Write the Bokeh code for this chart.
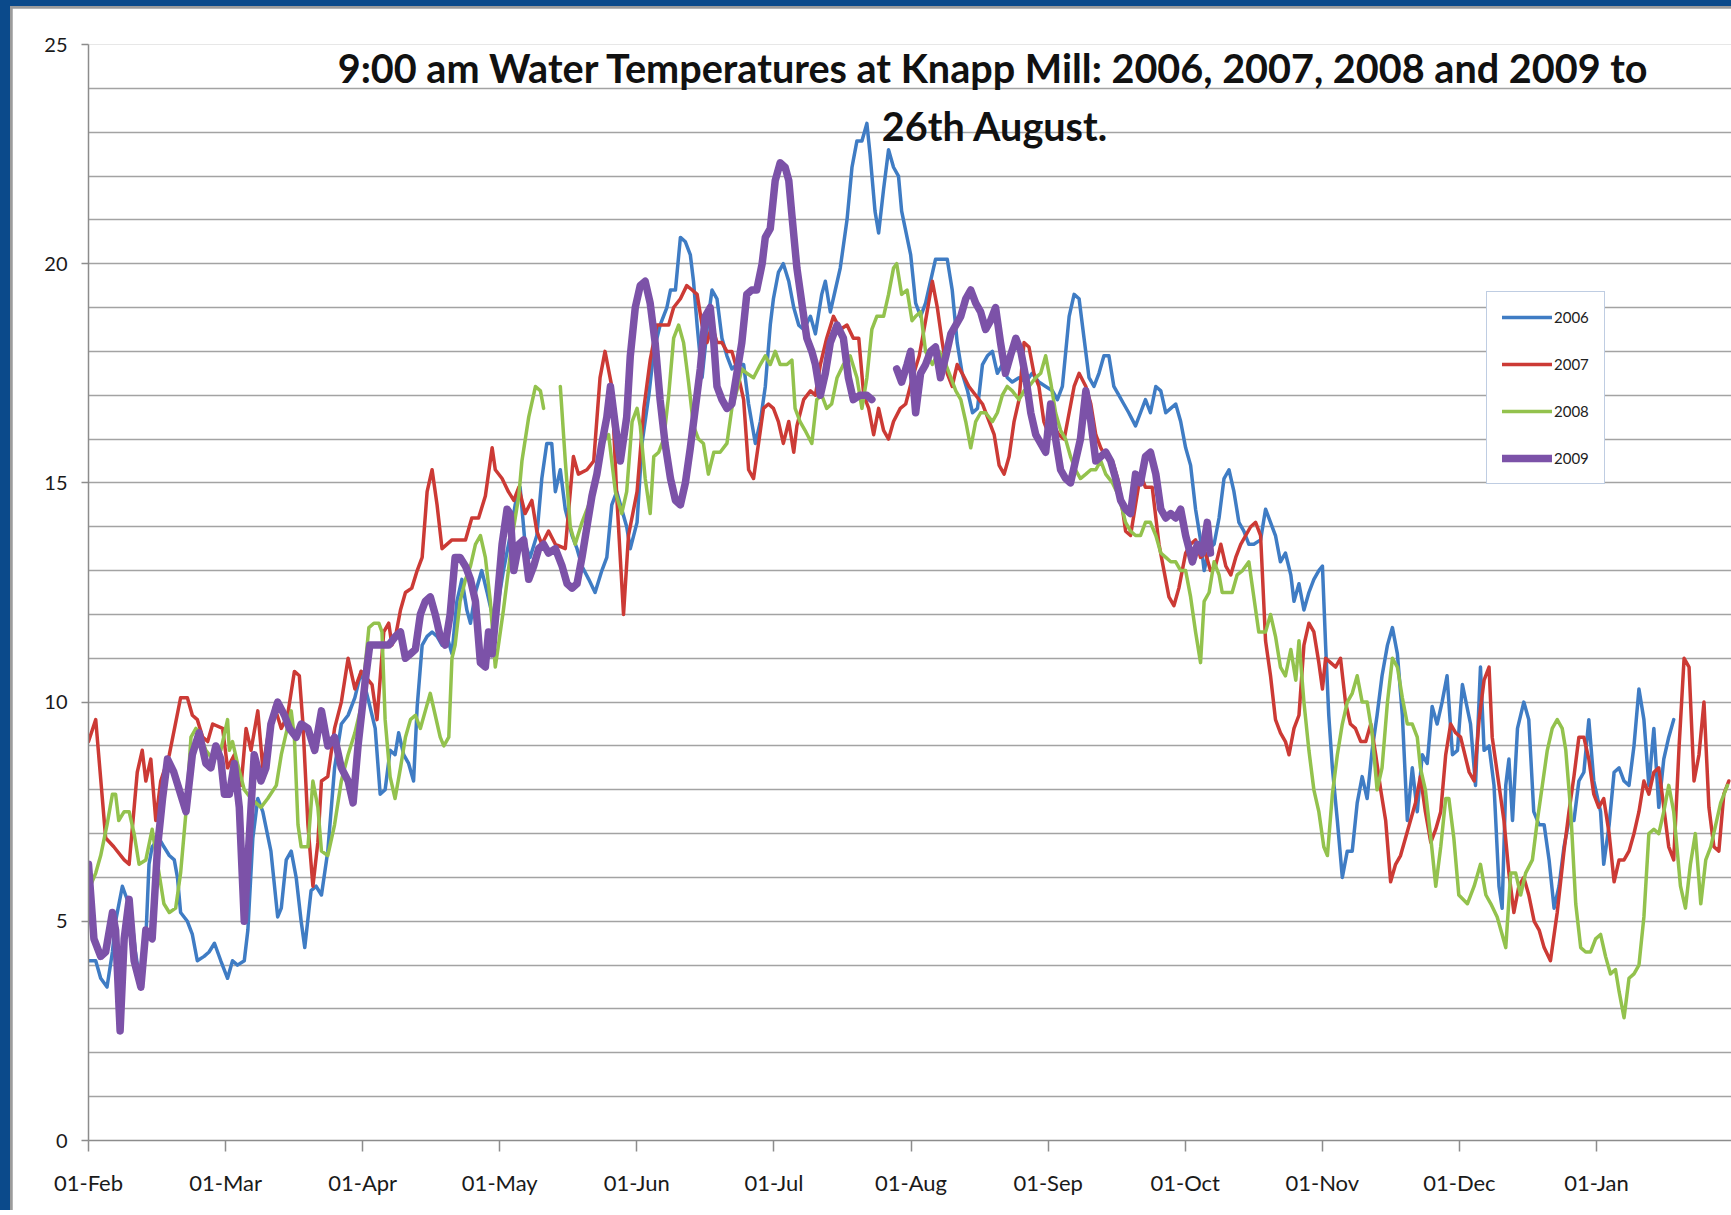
from bokeh.plotting import figure
from bokeh.models import Range1d, FixedTicker, SingleIntervalTicker, Label
from bokeh.layouts import column
from bokeh.embed import file_html
from bokeh.resources import INLINE

nan = float("nan")

# x = position along the category axis, in days after 01-Feb
month_ticks = [0, 30.36, 60.73, 91.09, 121.45, 151.82, 182.18, 212.55, 242.91, 273.27, 303.64, 334.0]
month_labels = ["01-Feb", "01-Mar", "01-Apr", "01-May", "01-Jun", "01-Jul",
                "01-Aug", "01-Sep", "01-Oct", "01-Nov", "01-Dec", "01-Jan"]

day_2006 = [0,1.6,2.7,4.1,5.3,6.0,7.5,8.2,9.3,10.4,11.6,12.7,13.4,14.1,15.6,16.7,17.9,19.0,19.7,20.4,21.9,23.0,24.1,25.6,26.7,27.9,29.3,30.8,31.9,33.0,34.5,35.3,36.4,37.5,38.6,40.4,41.9,42.7,43.8,44.9,46.0,47.1,47.9,49.3,50.4,51.6,53.0,54.5,56.0,57.5,59.0,60.4,
            62.1,63.5,64.6,65.7,66.8,67.9,68.7,69.8,70.9,72.0,72.8,73.9,75.0,76.1,77.2,78.3,79.4,80.5,81.6,82.7,83.8,84.6,85.7,87.1,88.3,89.4,90.8,91.9,93.4,94.5,95.6,96.7,97.8,99.3,100.4,101.5,102.6,103.4,104.5,105.6,107.1,108.2,109.3,110.8,112.2,113.7,114.8,115.9,117.0,118.1,119.2,
            120.0,121.5,122.6,124.1,125.2,126.6,128.1,128.9,130.0,131.1,132.2,133.3,134.0,134.8,135.9,137.3,138.1,139.2,140.3,141.4,142.5,143.6,145.1,146.2,147.7,148.8,149.9,151.0,151.7,152.8,153.9,155.1,156.2,157.3,158.4,159.9,161.0,162.4,163.2,164.3,165.4,166.5,168.0,169.1,170.2,171.3,172.4,173.1,174.2,175.0,176.1,177.2,178.3,179.4,180.1,
            182.1,183.2,184.3,185.4,186.5,187.6,189.1,190.2,191.3,192.4,193.5,194.7,195.8,196.9,198.0,199.1,200.2,201.3,202.4,203.5,204.6,206.1,207.6,209.0,210.5,212.0,213.5,214.6,215.7,217.2,218.3,219.4,220.5,221.6,222.7,223.8,224.9,226.0,227.1,228.2,229.3,230.4,231.9,233.0,234.1,235.2,236.4,237.5,238.6,239.7,240.8,241.9,243.0,
            244.1,245.2,246.3,247.1,248.2,249.3,250.4,251.5,252.6,253.7,254.8,255.9,257.0,258.1,259.6,260.7,261.8,262.9,264.0,265.1,266.3,267.0,268.1,269.2,270.3,271.4,272.5,273.3,274.0,274.7,275.5,276.6,277.7,278.8,279.9,281.0,282.1,283.2,284.3,285.4,286.5,287.7,288.8,289.9,291.0,292.1,293.2,294.3,295.4,296.5,297.6,298.7,299.8,300.9,302.1,303.2,304.3,
            306.1,307.2,308.3,309.1,310.2,311.3,312.4,313.1,313.9,314.6,315.4,316.5,317.9,319.0,320.1,321.3,322.4,323.5,324.6,325.7,326.8,327.9,329.0,330.1,331.2,332.3,333.4,334.9,335.6,336.8,337.9,339.0,340.1,341.2,342.3,343.4,344.5,345.6,346.7,347.8,348.9,350.0,351.1]
temp_2006 = [4.1,4.1,3.7,3.5,4.3,5.0,5.8,5.6,5.3,4.3,3.5,4.6,6.3,6.7,6.9,6.7,6.5,6.4,6.0,5.2,5.0,4.7,4.1,4.2,4.3,4.5,4.1,3.7,4.1,4.0,4.1,4.8,6.9,7.8,7.5,6.6,5.1,5.3,6.4,6.6,6.0,5.0,4.4,5.7,5.8,5.6,6.6,8.5,9.5,9.7,10.1,10.7,
             10.0,9.4,7.9,8.0,8.9,8.8,9.3,8.8,8.6,8.2,9.9,11.3,11.5,11.6,11.5,11.3,11.5,11.1,12.3,12.8,12.1,11.8,12.5,13.0,12.5,12.0,12.3,13.0,13.8,14.5,14.9,13.6,13.3,13.8,15.1,15.9,15.9,14.8,15.3,14.4,13.8,13.5,13.1,12.8,12.5,13.0,13.3,14.5,14.8,14.4,14.0,
             13.5,14.1,15.9,17.0,18.0,18.6,19.0,19.4,19.4,20.6,20.5,20.2,19.6,18.6,17.4,18.8,19.4,19.2,18.3,17.9,17.6,17.7,17.7,16.8,15.9,16.4,17.2,18.6,19.2,19.8,20.0,19.6,19.0,18.6,18.5,18.8,18.4,19.3,19.6,18.9,19.4,19.9,21.0,22.2,22.8,22.8,23.2,22.5,21.2,20.7,21.7,22.6,22.2,22.0,21.2,
             20.2,19.1,18.8,19.1,19.6,20.1,20.1,20.1,19.4,18.2,17.5,17.1,16.6,16.7,17.7,17.9,18.0,17.5,17.7,17.4,17.3,17.4,17.3,17.5,17.3,17.2,17.1,16.9,17.2,18.8,19.3,19.2,18.3,17.4,17.2,17.5,17.9,17.9,17.2,17.0,16.8,16.6,16.3,16.6,16.9,16.6,17.2,17.1,16.6,16.7,16.8,16.4,15.8,
             15.4,14.4,13.7,13.0,13.5,13.6,14.2,15.1,15.3,14.8,14.1,13.9,13.6,13.6,13.7,14.4,14.1,13.8,13.2,13.4,12.9,12.3,12.7,12.1,12.5,12.8,13.0,13.1,11.3,9.7,8.5,7.3,6.0,6.6,6.6,7.7,8.3,7.8,8.9,9.7,10.6,11.3,11.7,11.1,9.7,7.3,8.5,7.5,8.8,8.6,9.9,9.5,10.0,10.6,8.8,8.9,10.4,
             9.5,8.1,10.8,8.9,9.0,8.1,5.8,5.3,8.1,8.7,7.3,9.4,10.0,9.6,7.5,7.2,7.2,6.4,5.3,5.8,6.7,7.3,7.3,8.2,8.4,9.6,8.2,7.5,6.3,7.2,8.4,8.5,8.2,8.1,9.0,10.3,9.6,8.1,9.4,7.6,8.7,9.2,9.6]

day_2007 = [0,1.6,3.8,5.6,7.9,9.0,10.8,11.9,12.7,13.8,14.9,16.0,17.9,20.4,21.9,23.0,24.1,25.3,26.4,27.5,29.7,30.8,32.3,33.8,34.9,36.0,37.5,38.6,39.7,41.2,42.7,44.1,45.6,46.7,47.5,48.6,49.7,50.8,51.6,53.0,54.5,56.0,57.5,59.0,60.4,
            62.8,63.9,65.4,66.5,67.2,68.0,69.1,70.2,71.6,72.8,73.9,75.0,76.1,77.2,78.3,80.5,83.5,84.9,86.4,87.9,89.4,90.1,91.6,93.0,94.2,95.3,96.7,98.2,99.3,100.4,101.9,103.4,105.6,107.4,108.5,110.4,111.9,113.3,114.4,115.9,117.0,118.5,119.6,
            121.5,123.0,124.4,125.9,127.4,128.5,129.6,131.1,132.5,133.7,134.8,135.9,137.0,138.1,139.2,140.3,141.4,142.5,143.6,145.1,146.2,147.3,148.4,149.5,150.6,151.7,152.8,153.9,155.1,156.2,156.9,158.4,159.9,161.0,162.1,163.5,165.0,166.5,168.0,169.4,170.6,171.7,172.8,173.9,175.0,176.1,177.2,178.3,179.8,
            181.0,182.5,184.0,185.4,186.9,188.0,189.1,190.2,191.3,192.4,193.5,195.0,196.5,198.0,199.5,200.6,201.7,202.8,203.9,205.0,206.1,207.2,208.3,209.4,210.5,211.6,212.7,213.8,214.9,216.1,217.2,218.3,219.4,220.9,222.0,223.1,224.2,225.3,226.8,228.2,229.7,230.8,231.9,233.0,234.1,235.6,237.1,238.2,239.3,240.4,241.5,
            243.0,244.1,245.2,246.3,247.4,248.5,249.6,250.8,251.9,253.0,254.1,255.2,256.3,257.4,258.5,259.6,260.7,261.8,262.9,264.0,265.1,265.9,267.0,268.1,269.2,270.3,271.4,272.5,273.3,274.0,275.1,276.2,277.3,278.4,279.5,280.6,281.8,282.9,284.0,285.1,286.2,287.3,288.4,289.5,290.6,291.7,292.8,293.9,295.0,296.1,297.3,298.4,299.5,300.6,301.7,302.8,303.9,
            305.8,306.9,308.0,309.1,310.2,310.9,312.0,313.5,314.6,315.7,316.8,317.9,319.0,320.2,321.3,322.4,323.8,325.3,326.8,327.9,329.0,330.1,331.2,332.3,333.4,334.5,335.6,336.8,337.9,339.0,340.1,341.2,342.3,343.4,344.5,345.6,346.7,347.8,348.9,350.0,351.1,352.3,353.4,354.5,355.6,356.7,357.8,358.9,360.0,361.1,362.2,363.3]
temp_2007 = [9.1,9.6,6.9,6.7,6.4,6.3,8.4,8.9,8.2,8.7,7.3,8.2,8.8,10.1,10.1,9.7,9.6,9.2,9.1,9.5,9.4,8.5,8.8,8.1,9.4,8.9,9.8,8.5,9.2,9.9,9.4,9.7,10.7,10.6,9.5,7.2,5.8,6.8,8.2,8.3,9.4,10.0,11.0,10.3,10.7,
             10.4,9.6,11.6,11.8,11.3,11.5,12.1,12.5,12.6,13.0,13.3,14.8,15.3,14.5,13.5,13.7,13.7,14.2,14.2,14.7,15.8,15.3,15.1,14.8,14.6,14.9,14.3,14.6,13.9,13.6,13.9,13.6,13.5,15.6,15.2,15.3,15.5,17.4,18.0,17.2,14.7,12.0,13.8,
             14.8,16.7,17.8,18.6,18.6,18.6,19.0,19.2,19.5,19.4,19.3,18.6,18.2,18.6,18.2,18.2,18.0,18.0,17.6,16.9,15.3,15.1,15.9,16.7,16.8,16.7,16.4,15.9,16.4,15.7,16.3,16.9,17.1,17.0,17.7,18.3,18.8,18.5,18.6,18.3,18.3,17.0,16.7,16.1,16.7,16.2,16.0,16.4,16.7,
             16.8,17.4,17.9,18.7,19.6,19.0,18.2,17.5,17.2,17.7,17.5,17.2,17.0,16.8,16.4,16.1,15.4,15.2,15.6,16.4,16.9,18.2,18.1,17.5,17.2,16.4,16.1,16.3,16.1,16.0,16.6,17.2,17.5,17.2,16.8,16.1,15.8,15.6,15.5,15.0,13.9,13.8,14.5,15.2,14.9,14.9,13.6,13.0,12.4,12.2,12.6,
             13.4,13.6,13.7,13.3,13.4,13.0,13.1,13.6,13.1,12.9,13.3,13.6,13.8,14.0,14.1,13.8,11.4,10.6,9.6,9.3,9.1,8.8,9.4,9.7,11.3,11.8,11.6,10.9,10.3,11.0,10.9,10.8,11.0,10.0,9.5,9.4,9.1,9.1,9.5,8.8,8.0,7.3,5.9,6.3,6.5,6.9,7.3,7.7,8.3,7.5,6.8,7.1,7.5,8.8,9.5,9.3,9.2,
             8.4,8.2,9.6,10.5,10.8,9.2,8.4,7.3,6.1,5.2,5.8,6.0,5.6,5.0,4.8,4.4,4.1,5.2,6.6,7.5,8.3,9.2,9.2,8.7,7.9,7.6,7.8,7.0,5.9,6.4,6.4,6.6,7.0,7.5,8.2,7.9,8.4,8.5,7.6,6.7,6.4,9.0,11.0,10.8,8.2,8.8,10.0,7.6,6.7,6.6,7.9,8.2]

day_2008 = [0,1.6,2.7,4.1,5.3,6.0,6.7,7.9,9.0,10.1,11.2,12.7,14.1,15.3,16.7,17.9,19.3,20.4,21.6,22.7,23.8,24.9,26.0,27.5,29.3,30.8,31.2,31.9,33.0,34.5,36.0,38.2,39.7,41.6,42.7,44.9,45.6,46.4,47.1,48.6,49.7,50.8,51.6,53.0,54.5,56.0,57.5,59.0,60.4,
            62.1,63.2,64.3,65.0,65.7,66.8,67.9,69.1,70.2,71.3,72.4,73.5,74.6,75.7,76.8,77.9,78.7,79.8,80.5,81.2,82.3,83.5,84.6,85.7,86.8,87.9,89.0,90.1,90.8,91.9,93.0,94.2,95.3,96.0,97.5,99.0,100.1,100.8,102.6,104.5,105.6,106.7,107.8,109.3,110.8,112.2,113.7,115.2,116.7,118.1,119.2,120.4,121.5,
            122.2,123.3,124.4,125.2,126.3,127.4,128.5,129.6,130.7,131.8,132.9,134.0,135.1,136.2,137.3,138.5,139.9,141.4,142.5,143.6,144.7,145.8,147.3,148.8,149.9,151.0,152.1,153.2,154.7,155.8,156.5,157.6,158.7,160.2,161.3,162.4,163.5,164.6,165.8,167.2,168.7,170.2,171.3,172.4,173.5,174.6,176.1,177.2,178.3,179.0,180.1,181.3,182.4,
            183.2,184.3,185.4,186.9,188.4,189.9,191.0,192.1,193.2,194.3,195.4,196.5,197.6,198.7,200.2,201.3,202.4,203.5,204.6,206.1,207.2,208.3,209.8,210.9,212.0,213.1,214.2,215.3,216.4,217.5,218.6,219.7,220.9,222.0,223.1,224.2,225.3,226.8,228.2,229.7,230.8,231.9,233.0,234.1,235.2,236.4,237.5,238.6,239.7,240.8,241.9,
            243.0,244.1,245.2,246.3,247.1,248.2,249.3,250.4,251.1,252.2,253.3,254.4,255.6,257.0,258.1,259.2,260.7,261.8,262.9,264.0,265.1,266.3,267.4,268.1,269.2,270.3,271.4,272.5,273.6,274.4,275.5,276.6,277.7,278.8,279.9,281.0,282.1,283.2,284.3,285.4,286.5,287.7,288.8,289.9,291.0,292.1,293.2,294.3,295.0,296.1,297.3,298.4,299.5,300.6,301.3,302.4,303.5,
            305.4,306.9,308.3,309.5,310.6,312.0,313.1,313.9,315.0,316.1,317.2,318.3,319.8,320.9,322.0,323.1,324.2,325.3,326.4,327.2,328.3,329.4,330.5,331.6,332.7,333.8,334.9,336.0,337.1,338.2,339.0,340.1,341.2,342.3,343.4,344.5,345.6,346.7,347.8,348.9,350.0,351.1,352.6,353.7,354.8,355.9,357.1,358.2,359.3,360.4,361.5,363.0]
temp_2008 = [5.7,6.1,6.5,7.2,7.9,7.9,7.3,7.5,7.5,7.0,6.3,6.4,7.1,6.3,5.4,5.2,5.3,6.1,7.5,9.2,9.4,9.2,8.9,8.7,8.9,9.6,8.9,9.1,8.6,8.0,7.8,7.6,7.8,8.1,8.8,9.8,9.2,7.2,6.7,6.7,8.2,7.6,6.6,6.5,7.2,8.2,8.8,9.3,9.9,
             11.7,11.8,11.8,11.6,9.6,8.3,7.8,8.5,9.2,9.6,9.7,9.4,9.8,10.2,9.7,9.2,9.0,9.2,11.0,11.3,12.3,12.8,13.1,13.6,13.8,13.3,12.3,10.8,11.3,12.1,13.0,14.0,14.7,15.5,16.5,17.2,17.1,16.7,nan,17.2,15.5,14.0,13.6,14.1,14.5,15.1,15.9,16.1,14.8,14.3,14.8,16.4,16.7,
             16.3,15.1,14.3,15.6,15.7,16.0,17.0,18.3,18.6,18.2,17.3,16.3,16.0,15.9,15.2,15.7,15.7,15.9,16.7,17.1,17.6,17.5,17.4,17.7,17.9,17.7,18.0,17.7,17.7,17.8,16.7,16.4,16.2,15.9,16.9,17.0,16.7,16.8,17.4,17.7,17.9,17.4,16.7,17.4,18.5,18.8,18.8,19.3,19.9,20.0,19.3,19.4,18.7,
             18.8,18.9,18.0,17.7,18.0,17.7,17.4,17.1,16.9,16.4,15.8,16.4,16.6,16.6,16.4,16.6,17.0,17.2,17.1,16.9,17.1,17.2,17.4,17.5,17.9,17.3,16.6,16.2,16.0,15.6,15.3,15.1,15.2,15.3,15.3,15.5,15.2,15.0,14.7,14.1,13.9,13.8,13.8,14.1,14.1,13.8,13.4,13.3,13.2,13.2,13.0,
             13.0,12.4,11.6,10.9,12.3,12.5,13.2,12.9,12.5,12.5,12.5,12.9,13.0,13.2,12.4,11.6,11.6,12.0,11.5,10.8,10.6,11.2,10.5,11.4,10.0,8.9,8.0,7.5,6.7,6.5,7.9,8.8,9.5,10.0,10.2,10.6,10.0,10.0,9.3,8.0,8.5,10.0,11.0,10.8,10.1,9.5,9.5,9.2,8.5,8.0,6.9,5.8,6.7,7.8,7.8,6.9,5.6,
             5.4,5.8,6.3,5.6,5.4,5.1,4.7,4.4,6.1,6.1,5.6,6.1,6.4,7.3,8.1,8.9,9.4,9.6,9.4,8.9,7.5,5.4,4.4,4.3,4.3,4.6,4.7,4.2,3.8,3.9,3.4,2.8,3.7,3.8,4.0,5.1,7.0,7.1,7.0,7.5,8.1,7.5,5.8,5.3,6.3,7.0,5.4,6.4,6.7,7.2,7.7,8.1]

day_2009 = [0,1.2,2.7,3.8,5.3,6.0,7.0,7.9,9.0,10.1,11.6,12.7,14.1,15.3,16.4,17.5,18.9,20.4,21.6,23.0,24.5,26.0,27.1,28.2,29.3,30.1,31.2,32.3,33.4,34.5,35.6,36.7,38.2,39.3,40.4,41.9,43.4,44.5,46.0,47.1,48.6,50.1,51.6,53.0,54.5,56.0,57.5,58.6,59.7,61.2,62.3,
            63.5,65.0,66.5,68.0,69.1,70.2,71.3,72.4,73.5,74.6,75.7,76.8,77.9,79.0,80.1,81.2,82.3,83.5,84.6,85.7,86.8,87.9,88.6,89.4,90.5,91.6,92.7,93.4,94.2,95.3,96.4,97.5,98.6,99.7,100.8,101.9,103.4,104.9,106.0,107.1,108.2,109.3,110.4,111.5,112.6,113.7,114.8,115.6,116.7,117.8,119.2,
            120.0,121.1,122.2,123.3,124.4,125.5,126.6,127.7,128.9,130.0,131.1,132.2,133.3,134.4,135.5,136.6,137.7,138.5,139.2,140.3,141.4,142.5,143.6,144.7,145.8,146.9,148.0,149.2,149.9,151.0,152.1,153.2,154.3,155.1,155.8,156.9,158.0,159.1,160.2,161.0,162.1,163.2,164.3,165.8,167.2,168.3,169.4,170.9,172.4,173.5,176.0,179.0,180.1,181.3,
            182.1,183.2,184.3,185.4,186.5,187.6,188.7,189.9,191.0,192.1,193.2,194.3,195.4,196.5,197.6,198.7,199.8,200.9,202.0,203.1,204.2,205.4,206.5,207.6,208.7,209.8,210.9,212.0,213.1,214.2,215.3,216.4,217.5,218.6,219.7,220.9,222.0,223.1,224.2,225.3,226.4,227.5,228.6,229.7,230.8,231.9,233.0,234.1,235.2,236.4,237.5,238.6,239.7,240.8,241.9,243.0,
            244.5,245.6,246.7,247.8,248.5]
temp_2009 = [6.3,4.6,4.2,4.3,5.2,4.8,2.5,4.6,5.5,4.1,3.5,4.8,4.6,6.7,7.8,8.7,8.4,7.9,7.5,8.8,9.3,8.6,8.5,9.0,8.7,7.9,7.9,8.6,7.6,5.0,6.9,8.8,8.2,8.5,9.5,10.0,9.7,9.4,9.2,9.5,9.4,8.9,9.8,9.0,9.2,8.5,8.2,7.7,9.0,10.4,11.3,
             11.3,11.3,11.3,11.5,11.6,11.0,11.1,11.2,12.0,12.3,12.4,12.0,11.5,11.3,12.0,13.3,13.3,13.1,12.8,12.3,10.9,10.8,11.6,11.1,12.3,13.6,14.4,14.3,13.0,13.6,13.7,12.8,13.1,13.5,13.6,13.4,13.5,13.1,12.7,12.6,12.7,13.3,14.0,14.7,15.2,15.9,16.5,17.2,16.3,15.5,16.5,
             17.9,19.0,19.5,19.6,19.1,18.2,16.9,15.9,15.1,14.6,14.5,15.0,15.8,16.7,17.6,18.8,19.0,18.2,17.2,16.9,16.7,16.8,17.5,18.2,19.3,19.4,19.4,20.0,20.6,20.8,21.9,22.3,22.2,21.9,21.1,19.9,19.1,18.3,18.0,17.7,17.0,17.5,18.2,18.6,18.3,17.4,16.9,17.0,17.0,16.9,nan,17.6,17.3,17.7,
             18.0,16.6,17.5,17.7,18.0,18.1,17.4,17.9,18.4,18.6,18.8,19.2,19.4,19.1,18.9,18.5,18.7,19.0,18.2,17.5,17.9,18.3,18.0,17.4,16.6,16.1,15.9,15.7,16.8,16.0,15.3,15.1,15.0,15.5,16.0,17.1,16.4,15.5,15.6,15.7,15.5,15.1,14.6,14.4,14.3,15.2,15.0,15.6,15.7,15.2,14.4,14.2,14.3,14.2,14.4,13.8,
             13.2,13.6,13.4,14.1,13.4]

series = [
    ("2006", day_2006, temp_2006, "#3F7CC4", 3.5),
    ("2007", day_2007, temp_2007, "#CC3A35", 3.5),
    ("2008", day_2008, temp_2008, "#93C24D", 3.5),
    ("2009", day_2009, temp_2009, "#7C52A8", 7.5),
]

p = figure(width=1719, height=1202, x_range=Range1d(0, 363.9), y_range=Range1d(0, 25),
           output_backend="svg", toolbar_location=None,
           min_border_left=76, min_border_right=0, min_border_top=36, min_border_bottom=70,
           background_fill_color="white", border_fill_color="white", outline_line_color=None)

for name, xs, ys, color, w in series:
    p.line(xs, ys, line_color=color, line_width=w, line_join="round", line_cap="round",
           legend_label=name)

# axes
p.xaxis.ticker = FixedTicker(ticks=month_ticks)
p.xaxis.major_label_overrides = {t: lab for t, lab in zip(month_ticks, month_labels)}
p.xaxis.major_tick_out = 11
p.xaxis.major_tick_in = 0
p.xaxis.minor_tick_out = 0
p.xaxis.minor_tick_in = 0
p.xaxis.major_label_standoff = 17
p.xaxis.major_label_text_font = "Lato"
p.xaxis.major_label_text_font_size = "22px"
p.xaxis.major_label_text_color = "#1a1a1a"

p.yaxis.ticker = SingleIntervalTicker(interval=5)
p.yaxis.major_tick_out = 7
p.yaxis.major_tick_in = 0
p.yaxis.minor_tick_out = 0
p.yaxis.minor_tick_in = 0
p.yaxis.major_label_standoff = 14
p.yaxis.major_label_text_font = "Lato"
p.yaxis.major_label_text_font_size = "20px"
p.yaxis.major_label_text_color = "#1a1a1a"

for ax in (p.xaxis, p.yaxis):
    ax.axis_line_color = "#8c8c8c"
    ax.axis_line_width = 1.5
    ax.major_tick_line_color = "#8c8c8c"
    ax.major_tick_line_width = 1.5

p.xgrid.grid_line_color = None
p.ygrid.ticker = SingleIntervalTicker(interval=1)
p.ygrid.grid_line_color = "#a3a3a3"
p.ygrid.grid_line_width = 1.5

# legend
lg = p.legend[0]
lg.location = (1398, 656)
lg.border_line_color = "#7F9CC6"
lg.border_line_width = 1
lg.background_fill_color = "white"
lg.background_fill_alpha = 1
lg.label_text_font = "Lato"
lg.label_text_font_size = "15px"
lg.label_text_color = "#222222"
lg.glyph_width = 50
lg.glyph_height = 20
lg.label_height = 20
lg.spacing = 27
lg.padding = 15
lg.margin = 0
lg.label_standoff = 2

# title (drawn inside the plot area)
t1 = Label(x=200.5, y=24.48, text="9:00 am Water Temperatures at Knapp Mill: 2006, 2007, 2008 and 2009 to",
           text_align="center", text_baseline="middle", text_font="Lato", text_font_style="bold",
           text_font_size="39.6px", text_color="#111111")
t2 = Label(x=200.8, y=23.15, text="26th August.",
           text_align="center", text_baseline="middle", text_font="Lato", text_font_style="bold",
           text_font_size="39.6px", text_color="#111111")
p.add_layout(t1)
p.add_layout(t2)

inner = column(p, styles={"background-color": "#9C9C9C", "padding-left": "2px", "padding-top": "2px"})
page = column(inner, styles={"background-color": "#0B4A8B", "padding-left": "10px", "padding-top": "6px"})

open("out.html", "w").write(file_html(page, INLINE, title="Knapp Mill water temperatures"))
